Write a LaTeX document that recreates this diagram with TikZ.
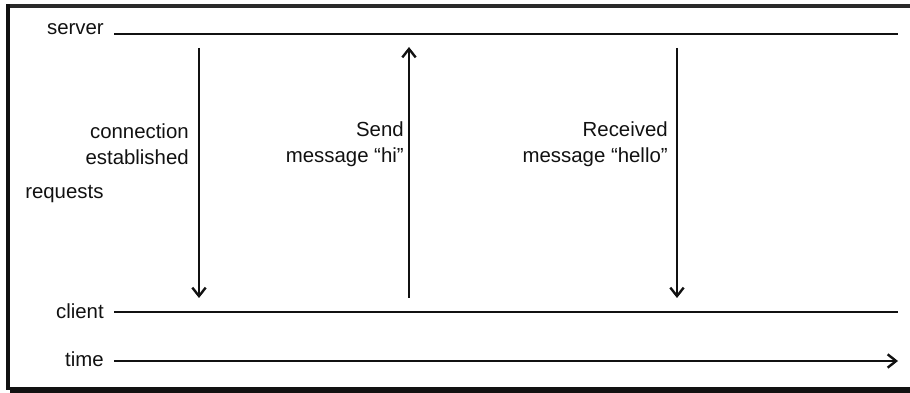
\documentclass[tikz,border=0pt]{standalone}
\usepackage{fontspec}
\setmainfont{Liberation Sans}
\usepackage{xcolor}
\definecolor{Ink}{HTML}{111111}
\definecolor{FrameGray}{HTML}{2A2A2A}
\usepackage{tikz}
\usetikzlibrary{arrows.meta, positioning}
\tikzset{
  lbl/.style={inner sep=0pt, font=\fontsize{14.5}{18.5}\selectfont, text=Ink},
  msg/.style={lbl, align=right},
  lane/.style={line width=0.9pt, color=Ink},
  sig/.style={-{Straight Barb[length=6pt, width=9.5pt, line width=1.7pt]}, line width=0.9pt, color=Ink},
}

\begin{document}
\begin{tikzpicture}[x=0.025cm, y=-0.025cm]
\useasboundingbox (0,0) rectangle (910,393);

% frame
\fill[FrameGray] (6,4) rectangle (910,8);
\fill[Ink] (6,4) rectangle (10,390);
\fill[Ink] (10,387) rectangle (910,393);

% lanes
\node[lbl, anchor=base east] (server) at (104,35) {server};
\node[lbl, anchor=base east] (client) at (104,319) {client};
\node[lbl, anchor=base east] (time) at (104,367) {time};
\node[lbl, anchor=base west] (requests) at (25,199) {requests};

\coordinate (s0) at (114,34);  \coordinate (s1) at (898,34);
\coordinate (c0) at (114,312); \coordinate (c1) at (898,312);
\coordinate (t0) at (114,361); \coordinate (t1) at (898,361);

\draw[lane] (s0) -- (s1);
\draw[lane] (c0) -- (c1);
\draw[sig] (t0) -- (t1);

% messages
\coordinate (a1top) at (199,48);  \coordinate (a1bot) at (199,298);
\coordinate (a2top) at (409,47);  \coordinate (a2bot) at (409,298);
\coordinate (a3top) at (677,48);  \coordinate (a3bot) at (677,298);

\draw[sig] (a1top) -- (a1bot);
\draw[sig] (a2bot) -- (a2top);
\draw[sig] (a3top) -- (a3bot);

\node[msg, anchor=east] (conn) at (189,144) {connection\\established};
\node[msg, anchor=east] (send) at (404,144) {Send\\message “hi”};
\node[msg, anchor=east] (recv) at (668,144) {Received\\message “hello”};

\end{tikzpicture}
\end{document}
